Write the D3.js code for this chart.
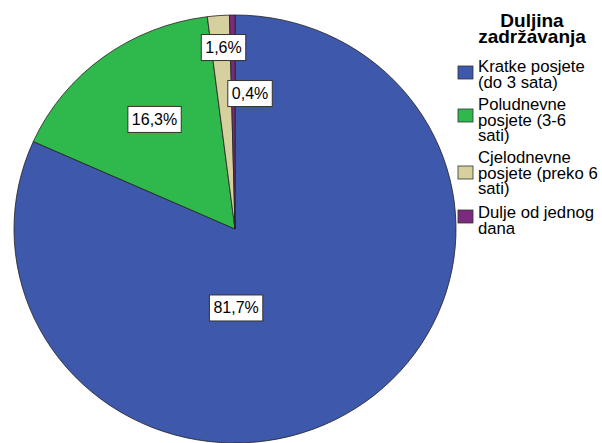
<!DOCTYPE html>
<html>
<head>
<meta charset="utf-8">
<script src="https://cdn.jsdelivr.net/npm/d3@7"></script>
<style>
  body { margin: 0; background: #fff; }
  text { font-family: "Liberation Sans", Arial, sans-serif; }
</style>
</head>
<body>
<div id="chart"></div>
<script>
const categories = ['Kratke posjete (do 3 sata)', 'Poludnevne posjete (3-6 sati)', 'Cjelodnevne posjete (preko 6 sati)', 'Dulje od jednog dana']
const values = [81.7, 16.3, 1.6, 0.4]
const labels = ['81,7%', '16,3%', '1,6%', '0,4%']
const legendLines = [
  ['Kratke posjete', '(do 3 sata)'],
  ['Poludnevne', 'posjete (3-6', 'sati)'],
  ['Cjelodnevne', 'posjete (preko 6', 'sati)'],
  ['Dulje od jednog', 'dana']
]
const colors = ['#3e58ab', '#2fb84b', '#d6d09f', '#7c2a7e']

const width = 602
const height = 443
const cx = 235
const cy = 229
const ry = 214
const rx = 221

const svg = d3.select('#chart')
  .append('svg')
  .attr('width', width)
  .attr('height', height)

const data = categories.map((c, i) => ({name: c, value: values[i], label: labels[i], color: colors[i]}))

const pie = d3.pie().sort(null).value(d => d.value)
const arc = d3.arc().innerRadius(0).outerRadius(ry)
const arcs = pie(data)

// pie is a bit wider than tall in the original
const g = svg.append('g')
  .attr('transform', `translate(${cx},${cy}) scale(${rx / ry},1)`)

g.selectAll('path')
  .data(arcs)
  .enter()
  .append('path')
  .attr('d', arc)
  .attr('fill', d => d.data.color)
  .attr('stroke', '#222')
  .attr('stroke-width', 0.8)

// label positions (fraction of radius) picked to sit like the original
const labelPos = [
  {x: 0.005, y: 0.369},
  {x: -0.364, y: -0.512},
  {x: -0.052, y: -0.848},
  {x: 0.068, y: -0.633}
]

const lg = svg.append('g')
arcs.forEach((a, i) => {
  const px = cx + labelPos[i].x * rx
  const py = cy + labelPos[i].y * ry
  const t = lg.append('text')
    .attr('x', px)
    .attr('y', py + 5.5)
    .attr('text-anchor', 'middle')
    .attr('font-size', 16)
    .attr('fill', '#000')
    .text(a.data.label)
  const bb = t.node().getBBox()
  lg.insert('rect', 'text')
    .attr('x', px - bb.width / 2 - 4)
    .attr('y', py - 13)
    .attr('width', bb.width + 8)
    .attr('height', 26)
    .attr('fill', '#fff')
    .attr('stroke', '#333')
    .attr('stroke-width', 1)
})

// legend
const leg = svg.append('g')
leg.append('text')
  .attr('text-anchor', 'middle')
  .attr('font-size', 19)
  .attr('font-weight', 'bold')
  .selectAll('tspan')
  .data(['Duljina', 'zadržavanja'])
  .enter()
  .append('tspan')
  .attr('x', 532)
  .attr('y', (d, i) => 27 + i * 16)
  .text(d => d)

const itemTop = [72, 110, 163, 218]
const swatchY = [66, 109, 166, 210]
legendLines.forEach((lines, i) => {
  leg.append('rect')
    .attr('x', 458)
    .attr('y', swatchY[i])
    .attr('width', 15)
    .attr('height', 13)
    .attr('fill', colors[i])
    .attr('stroke', '#333')
    .attr('stroke-width', 0.8)
  leg.append('text')
    .attr('font-size', 16.7)
    .selectAll('tspan')
    .data(lines)
    .enter()
    .append('tspan')
    .attr('x', 478)
    .attr('y', (d, j) => itemTop[i] + j * 15.7)
    .text(d => d)
})
</script>
</body>
</html>
